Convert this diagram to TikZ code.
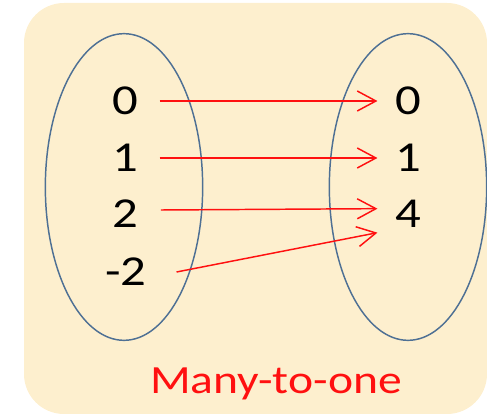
\documentclass[tikz,border=0pt]{standalone}
\usepackage{fontspec}
\setmainfont{Carlito}
\usetikzlibrary{arrows.meta}
\definecolor{fondo}{HTML}{FDEFCE}
\definecolor{borde}{HTML}{4E7094}
\definecolor{rojo}{HTML}{FF1010}
\tikzset{
  num/.style={inner sep=0pt, minimum width=46.5pt, text height=20pt, text depth=0pt,
    xscale=1.19, font=\fontsize{32}{36}\selectfont},
  flecha/.style={rojo, line width=1.1pt, -{Straight Barb[length=14pt,width=15pt,line width=1.1pt]}}
}
\begin{document}
\begin{tikzpicture}[x=0.75pt, y=-0.75pt]
    \useasboundingbox (0,0) rectangle (487,414);
    \fill[fondo, rounded corners=30pt] (24,3) rectangle (487,414);
    % Conjuntos
    \draw[borde, line width=1.1pt] (124,187) ellipse [x radius=59pt, y radius=115pt];
    \draw[borde, line width=1.1pt] (408,187) ellipse [x radius=59pt, y radius=115pt];
    % Dominio
    \node[num] (l0) at (125,101) {0};
    \node[num] (l1) at (125,158) {1};
    \node[num] (l2) at (125,214) {2};
    \node[num] (lm2) at (126,272) {-2};
    % Codominio
    \node[num] (r0) at (408,101) {0};
    \node[num] (r1) at (408,158) {1};
    \node[num] (r4) at (408,214) {4};
    % Flechas
    \draw[flecha] ([xshift=-2pt]l0.east) -- ([xshift=5pt]r0.west);
    \draw[flecha] ([xshift=-2pt]l1.east) -- ([xshift=5pt]r1.west);
    \draw[flecha] ([xshift=-1pt, yshift=3pt]l2.east) -- ([xshift=5pt, yshift=4pt]r4.west);
    \draw[flecha] ([xshift=10pt]lm2.east) -- ([xshift=5pt, yshift=-14pt]r4.west);
    \node[rojo, anchor=base, inner sep=0pt, xscale=1.19, font=\fontsize{30}{36}\selectfont]
      (titulo) at (276,393) {Many-to-one};
\end{tikzpicture}
\end{document}
